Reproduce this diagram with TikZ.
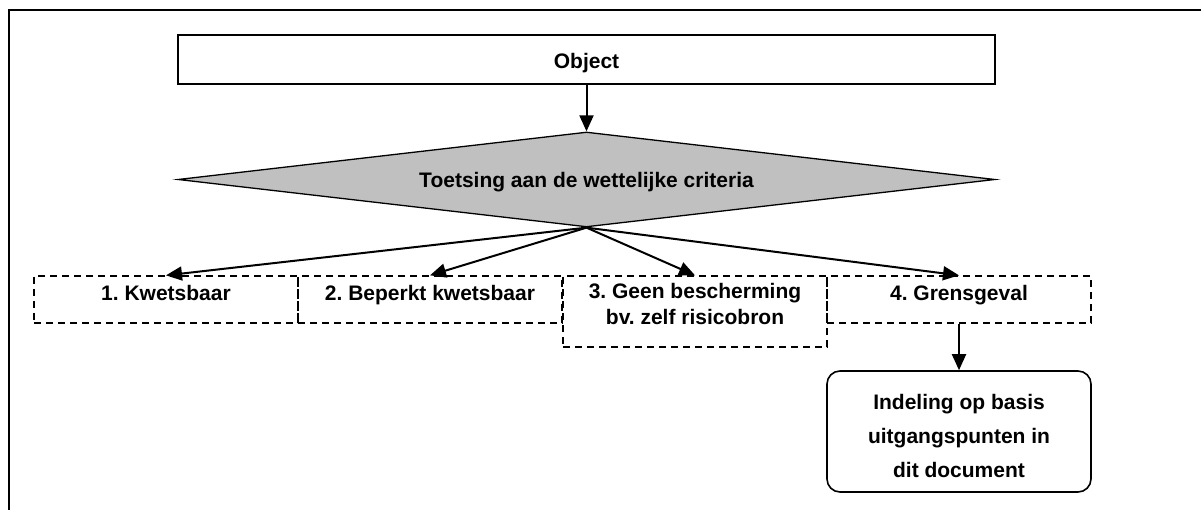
\documentclass[tikz,border=0pt]{standalone}
\usepackage{fontspec}
\setmainfont{Liberation Sans}
\usetikzlibrary{shapes.geometric,arrows.meta}
\definecolor{diagray}{RGB}{192,192,192}
\frenchspacing
\begin{document}
\begin{tikzpicture}[x=1pt,y=-1pt,
  txt/.style={font=\fontsize{21}{26}\selectfont\bfseries, inner sep=0pt, align=center},
  plainbox/.style={draw, line width=1.3pt, inner sep=0pt, font=\fontsize{21}{26}\selectfont\bfseries},
  dbox/.style={draw, dash pattern=on 7pt off 5pt, line width=1.3pt, inner sep=0pt,
               minimum width=264pt, font=\fontsize{21}{26}\selectfont\bfseries},
  arr/.style={-{Triangle[length=16pt,width=14pt]}, line width=2pt}]
\useasboundingbox (0,0) rectangle (1201,510);
% outer frame (top and left sides only)
\coordinate (fbl) at (9,510);
\coordinate (ftl) at (9,10);
\coordinate (ftr) at (1201,10);
\draw[line width=1.6pt] (fbl) -- (ftl) -- (ftr);
% top box
\node[plainbox, minimum width=817pt, minimum height=49pt, text height=19pt, text depth=0pt]
  (obj) at (586.5,59.5) {Object};
% diamond
\node[draw, fill=diagray, line width=1.3pt, shape=diamond, shape aspect=8.6,
      minimum width=817pt, minimum height=95pt, inner sep=0pt,
      font=\fontsize{21}{26}\selectfont\bfseries, text height=17pt, text depth=0pt]
  (dia) at (586.5,179.5) {Toetsing aan de wettelijke criteria};
% dashed boxes
\node[dbox, minimum height=47pt, text height=15pt, text depth=12pt] (k1) at (166,299.5) {1. Kwetsbaar};
\node[dbox, minimum height=47pt, text height=15pt, text depth=12pt] (k2) at (430,299.5) {2. Beperkt kwetsbaar};
\node[dbox, minimum height=71pt] (k3) at (695,311.5) {};
\node[txt, anchor=north] (k3t) at ([yshift=-7.7pt]k3.north) {3. Geen bescherming\\bv. zelf risicobron};
\node[dbox, minimum height=47pt, text height=15pt, text depth=12pt] (k4) at (959,299.5) {4. Grensgeval};
% rounded box
\node[draw, line width=1.6pt, rounded corners=13pt, minimum width=264pt, minimum height=121pt, inner sep=0pt]
  (ind) at (959,431.5) {};
\node[txt, font=\fontsize{21}{34}\selectfont\bfseries, anchor=north] (indt) at ([yshift=-23.7pt]ind.north)
  {Indeling op basis\\uitgangspunten in\\dit document};
% connectors
\draw[arr] (obj.south) -- (dia.north);
\draw[arr] (dia.south) -- (k1.north);
\draw[arr] (dia.south) -- (k2.north);
\draw[arr] (dia.south) -- (k3.north);
\draw[arr] (dia.south) -- (k4.north);
\draw[arr] (k4.south) -- (ind.north);
\end{tikzpicture}
\end{document}
